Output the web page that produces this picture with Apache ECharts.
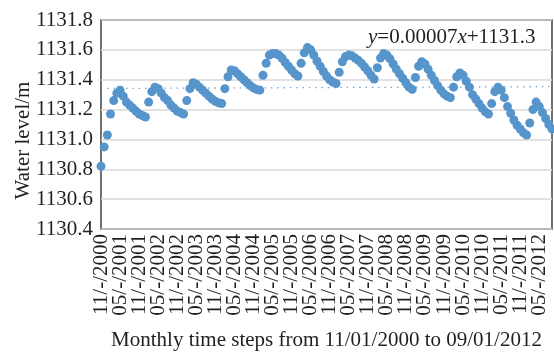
<!DOCTYPE html>
<html>
<head>
<meta charset="utf-8">
<script src="https://cdn.jsdelivr.net/npm/echarts@6/dist/echarts.min.js"></script>
<style>
  html, body { margin: 0; padding: 0; background: #fff; }
  #chart { width: 554px; height: 352px; }
</style>
</head>
<body>
<div id="chart"></div>
<script>
// monthly water level, 11/2000 .. 09/2012 (143 months)
const startMonth = 11, startYear = 2000;
const levels = [
  1130.82, 1130.95, 1131.03, 1131.17, 1131.26, 1131.31, 1131.33, 1131.29, 1131.25, 1131.23,
  1131.21, 1131.19, 1131.17, 1131.16, 1131.15, 1131.25, 1131.32, 1131.35, 1131.34, 1131.31,
  1131.28, 1131.26, 1131.23, 1131.21, 1131.19, 1131.18, 1131.17, 1131.26, 1131.34, 1131.38,
  1131.37, 1131.35, 1131.33, 1131.31, 1131.29, 1131.27, 1131.255, 1131.245, 1131.24, 1131.34,
  1131.42, 1131.465, 1131.46, 1131.44, 1131.42, 1131.40, 1131.38, 1131.36, 1131.345, 1131.335,
  1131.33, 1131.43, 1131.51, 1131.565, 1131.575, 1131.575, 1131.565, 1131.545, 1131.515, 1131.49,
  1131.465, 1131.44, 1131.425, 1131.51, 1131.58, 1131.615, 1131.60, 1131.565, 1131.525, 1131.49,
  1131.455, 1131.425, 1131.40, 1131.385, 1131.375, 1131.45, 1131.52, 1131.555, 1131.565, 1131.56,
  1131.545, 1131.53, 1131.51, 1131.485, 1131.46, 1131.43, 1131.405, 1131.48, 1131.545, 1131.575,
  1131.565, 1131.54, 1131.505, 1131.47, 1131.44, 1131.41, 1131.38, 1131.35, 1131.335, 1131.415,
  1131.49, 1131.52, 1131.505, 1131.47, 1131.43, 1131.395, 1131.36, 1131.33, 1131.305, 1131.29,
  1131.28, 1131.35, 1131.42, 1131.445, 1131.43, 1131.39, 1131.35, 1131.30, 1131.27, 1131.24,
  1131.21, 1131.185, 1131.17, 1131.24, 1131.32, 1131.35, 1131.33, 1131.28, 1131.22, 1131.175,
  1131.13, 1131.095, 1131.07, 1131.045, 1131.03, 1131.11, 1131.20, 1131.25, 1131.22, 1131.18,
  1131.14, 1131.10, 1131.07
];
const labelStep = 6;
const equation = '{i|y}=0.00007{i|x}+1131.3';

// category labels MM/-/YYYY
let months = [];
for (let k = 0; k < levels.length; k++) {
  let m = (startMonth - 1 + k) % 12 + 1;
  let y = startYear + Math.floor((startMonth - 1 + k) / 12);
  months.push((m < 10 ? '0' + m : '' + m) + '/-/' + y);
}

// least squares trend from the data
function trendLine(vals) {
  let n = vals.length, sx = 0, sy = 0, sxy = 0, sxx = 0;
  vals.forEach((v, i) => { sx += i; sy += v; sxy += i * v; sxx += i * i; });
  let b = (n * sxy - sx * sy) / (n * sxx - sx * sx);
  let a = (sy - b * sx) / n;
  return vals.map((v, i) => +(a + b * i).toFixed(4));
}

const font = 'Liberation Serif, Times New Roman, serif';
const textColor = '#231f20';

let myChart = echarts.init(document.getElementById('chart'));
myChart.setOption({
  animation: false,
  grid: {
    left: 101, right: 2, top: 20, bottom: 123,
    containLabel: false,
    outerBoundsMode: 'none',
    show: true, borderColor: '#262626', borderWidth: 1.3
  },
  xAxis: {
    type: 'category',
    data: months,
    boundaryGap: false,
    name: 'Monthly time steps from 11/01/2000 to 09/01/2012',
    nameLocation: 'middle',
    nameGap: 101,
    nameTextStyle: { fontFamily: font, fontSize: 21, color: textColor },
    axisLine: { show: false },
    axisTick: { show: false },
    axisLabel: {
      interval: 0,
      // every 6th month gets a label
      formatter: (val, idx) => idx % labelStep === 0 ? val : '',
      rotate: 90, margin: 5, lineHeight: 14,
      fontFamily: font, fontSize: 21, color: textColor
    },
    splitLine: { show: false }
  },
  yAxis: {
    type: 'value',
    min: 1130.4, max: 1131.8, interval: 0.2,
    name: 'Water level/m',
    nameLocation: 'middle',
    nameGap: 67,
    nameMoveOverlap: false,
    nameTextStyle: { fontFamily: font, fontSize: 21, color: textColor, padding: [0, 32, 0, 0] },
    axisLine: { show: false },
    axisTick: { show: false },
    axisLabel: {
      margin: 8, fontFamily: font, fontSize: 21, color: textColor,
      formatter: v => v.toFixed(1)
    },
    splitLine: { lineStyle: { color: '#d9d9d9', width: 1.5 } }
  },
  graphic: [{
    type: 'text',
    left: 368, top: 27,
    style: {
      text: equation,
      fontFamily: font, fontSize: 21, fill: textColor,
      rich: { i: { fontFamily: font, fontSize: 21, fontStyle: 'italic', fill: textColor } }
    }
  }],
  series: [
    {
      name: 'trend',
      type: 'line',
      data: trendLine(levels),
      showSymbol: false,
      z: 1,
      lineStyle: { color: '#5b9bd5', width: 1.3, type: [1.3, 5] }
    },
    {
      name: 'Water level',
      type: 'scatter',
      data: levels,
      symbolSize: 9,
      z: 3,
      itemStyle: { color: '#5695cc', opacity: 1 }
    }
  ]
});
</script>
</body>
</html>
